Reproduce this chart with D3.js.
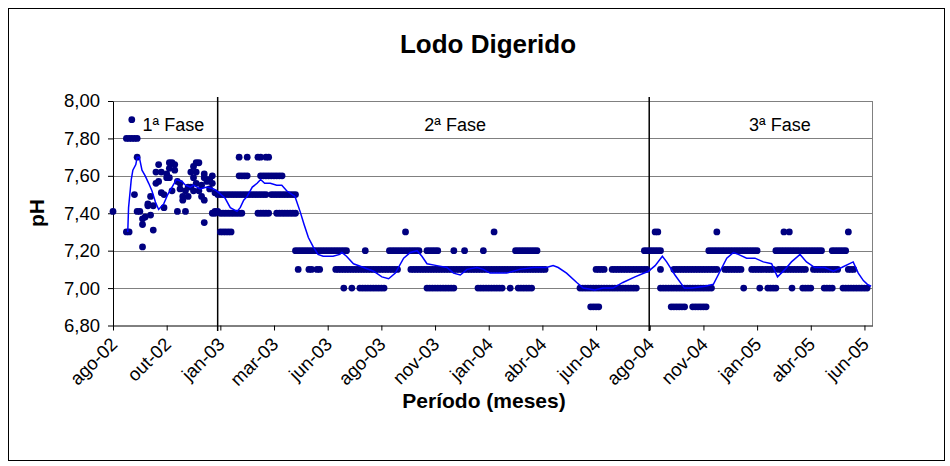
<!DOCTYPE html>
<html>
<head>
<meta charset="utf-8">
<script src="https://cdn.jsdelivr.net/npm/d3@7"></script>
<style>
  html, body { margin: 0; padding: 0; background: #fff; }
  svg { display: block; }
  text { font-family: "Liberation Sans", Arial, sans-serif; fill: #000; }
</style>
</head>
<body>
<svg id="chart" width="950" height="466"></svg>
<script>
// ---------------- DATA ----------------
const chartTitle = "Lodo Digerido";
const yTitle = "pH";
const xTitle = "Período (meses)";

// Y-axis ticks
const yTicks = [6.8, 7.0, 7.2, 7.4, 7.6, 7.8, 8.0];

// X-axis: sample (category) index of each labelled month
const xTickIndex = [0, 20, 40, 60, 80, 100, 120, 140, 160, 180, 200, 220, 240, 260, 280];
const xTickLabels = ["ago-02", "out-02", "jan-03", "mar-03", "jun-03", "ago-03", "nov-03",
  "jan-04", "abr-04", "jun-04", "ago-04", "nov-04", "jan-05", "abr-05", "jun-05"];
const lastSample = 283;

// Phase separators (sample index) and labels
const phaseBreaks = [39, 199.8];
const phaseLabels = ["1ª Fase", "2ª Fase", "3ª Fase"];
const phaseLabelAt = [22.5, 127.5, 248.5];

// Phase 1 readings (sample index, pH)
const phase1Index = [0,5,5,6,6,7,7,8,8,9,9,9,10,11,11,11,12,13,13,14,14,15,15,16,16,17,17,18,18,19,19,20,20,21,21,21,22,22,23,23,24,24,25,25,26,26,27,27,28,28,29,29,30,30,30,31,31,31,32,32,33,33,34,34,34,34,35,35,36,36,37,37,37,38,38,38,39,39];
const phase1Ph = [7.41,7.80,7.30,7.80,7.30,7.80,7.90,7.80,7.50,7.80,7.70,7.41,7.41,7.22,7.37,7.34,7.38,7.44,7.45,7.39,7.49,7.31,7.44,7.56,7.62,7.66,7.57,7.62,7.51,7.50,7.43,7.61,7.59,7.64,7.67,7.59,7.67,7.52,7.66,7.63,7.41,7.57,7.53,7.56,7.49,7.47,7.41,7.52,7.49,7.54,7.62,7.54,7.65,7.59,7.52,7.62,7.56,7.67,7.67,7.52,7.49,7.55,7.47,7.35,7.61,7.59,7.57,7.58,7.58,7.53,7.60,7.56,7.40,7.41,7.51,7.40,7.50,7.41];

// Later readings, grouped by measured pH: sample indices where each value was recorded
const samplesPh770 = [47,50,54,55,57,58];
const samplesPh760 = [47,48,49,50,55,56,57,58,59,60,61,62,63];
const samplesPh750 = [40,41,42,43,44,45,46,47,48,49,50,51,52,53,54,55,56,57,59,60,61,62,63,64,65,66,67,68];
const samplesPh740 = [40,41,42,43,44,45,46,47,48,54,55,56,57,58,61,62,63,64,65,66,67,68];
const samplesPh730 = [40,41,42,43,44,109,142,202,203,225,250,252,274];
const samplesPh720 = [68,69,70,71,72,73,74,75,76,77,78,79,80,81,82,83,84,85,86,87,94,
  103,104,105,106,107,108,109,110,111,112,113,114,117,118,119,120,121,127,131,138,
  150,151,152,153,154,155,156,157,158,198,199,200,201,202,203,204,
  222,223,224,225,226,227,228,229,230,231,232,233,234,235,236,237,238,239,240,
  247,248,249,250,251,252,253,254,255,256,257,258,259,260,261,262,263,264,
  268,269,270,271,272,273];
const samplesPh710 = [69,73,74,76,77,
  83,84,85,86,87,88,89,90,91,92,93,94,95,96,97,98,99,100,101,102,103,104,105,106,
  111,112,113,114,115,116,117,118,119,120,121,122,123,124,125,126,127,128,129,130,
  131,132,133,134,135,136,137,138,139,140,141,142,143,144,145,146,147,148,149,150,
  151,152,153,154,155,156,157,158,159,160,161,
  180,181,182,183,186,187,188,189,190,191,192,193,194,195,196,197,198,199,204,
  209,210,211,212,213,214,215,216,217,218,219,220,221,222,223,224,225,
  228,229,230,231,232,233,234,238,239,240,241,242,243,244,245,246,
  248,249,250,251,252,253,254,255,256,257,258,261,262,263,264,265,266,267,268,269,270,
  274,275,276];
const samplesPh700 = [86,89,92,93,94,95,96,97,98,99,100,101,
  117,118,119,120,121,122,123,124,125,126,127,
  136,137,138,139,140,141,142,143,144,145,148,151,152,153,154,155,156,
  174,175,176,177,178,179,180,181,182,183,184,185,186,187,188,189,190,191,192,193,194,195,
  204,205,206,207,208,209,210,211,212,213,214,215,216,217,218,219,220,221,222,223,
  235,241,244,245,246,247,253,257,258,259,260,265,266,267,268,
  272,273,274,275,276,277,278,279,280,281];
const samplesPh690 = [178,179,180,181,208,209,210,211,212,213,216,217,218,219,220,221];

// Moving-average trend line vertices (sample index, pH)
const trendIndex = [5.5,5.8,6.8,7.4,8.5,9,9.8,10.8,12,13.3,14.5,15.8,17,18.9,20.4,22,23.6,25.7,27,28.8,30,32.5,35,37.5,39.4,41.8,43.7,46.2,47.4,48.7,50,51.9,53.7,55,56.5,58.6,61,62.9,64.7,67.8,69.7,71.2,72.8,74.6,76.4,78.3,82,84.5,85.3,87,89.6,93.4,97.1,100.2,102.7,105.2,108.3,110.8,113.3,115.1,117,120.7,124.4,126.9,129.4,131.9,135.6,138,140.5,143,146.7,151.6,156.6,161.5,164,165.9,169,172.8,175.2,179.5,182.6,186.3,190,194.5,199.5,202,204.7,206.3,209.4,212.9,215.6,220.6,223.7,226.2,228.7,231.2,233,236.1,239.2,242.3,245.4,247.6,250.4,252.8,256,258.4,261.5,265.2,268.4,271.5,275.8,277.7,279.6,281.1,282.5];
const trendPh = [7.30,7.43,7.58,7.63,7.66,7.70,7.70,7.63,7.60,7.56,7.52,7.46,7.42,7.45,7.50,7.54,7.58,7.57,7.55,7.54,7.55,7.53,7.54,7.53,7.51,7.48,7.43,7.41,7.43,7.47,7.49,7.54,7.56,7.58,7.56,7.56,7.55,7.55,7.52,7.49,7.41,7.34,7.27,7.22,7.18,7.17,7.17,7.18,7.19,7.17,7.13,7.11,7.09,7.06,7.05,7.08,7.16,7.19,7.20,7.17,7.13,7.12,7.11,7.08,7.07,7.10,7.11,7.10,7.08,7.08,7.08,7.10,7.11,7.11,7.12,7.11,7.08,7.03,7.00,6.99,7.00,7.00,7.03,7.06,7.09,7.12,7.17,7.14,7.07,7.00,7.00,7.01,7.02,7.09,7.16,7.19,7.18,7.16,7.16,7.14,7.13,7.06,7.10,7.14,7.18,7.14,7.11,7.11,7.09,7.11,7.14,7.08,7.04,7.02,7.01];

// ---------------- BUILD ----------------
const readings = [];
phase1Index.forEach((s, k) => readings.push({ s: s, v: phase1Ph[k] }));
const levelGroups = [
  [7.7, samplesPh770], [7.6, samplesPh760], [7.5, samplesPh750], [7.4, samplesPh740],
  [7.3, samplesPh730], [7.2, samplesPh720], [7.1, samplesPh710], [7.0, samplesPh700],
  [6.9, samplesPh690]
];
levelGroups.forEach(([v, arr]) => arr.forEach(s => readings.push({ s: s, v: v })));
const trend = trendIndex.map((s, k) => ({ s: s, v: trendPh[k] }));

const svg = d3.select("#chart");
const x = d3.scaleLinear().domain([0, lastSample]).range([113, 872.5]);
const y = d3.scaleLinear().domain([6.8, 8.0]).range([325.5, 101]);

// outer frame
svg.append("rect").attr("x", 8.5).attr("y", 8.5).attr("width", 936).attr("height", 452)
  .attr("fill", "#fff").attr("stroke", "#000").attr("stroke-width", 1);

// title
svg.append("text").attr("x", 488).attr("y", 53).attr("text-anchor", "middle")
  .attr("font-size", 26).attr("font-weight", "bold").text(chartTitle);

// gridlines
svg.append("g").selectAll("line").data(yTicks.filter(d => d > 6.8)).join("line")
  .attr("x1", x(0)).attr("x2", x(lastSample))
  .attr("y1", d => Math.round(y(d)) + 0.5).attr("y2", d => Math.round(y(d)) + 0.5)
  .attr("stroke", "#808080").attr("stroke-width", 1);
// plot area right border
svg.append("line").attr("x1", x(lastSample)).attr("x2", x(lastSample))
  .attr("y1", y(8.0)).attr("y2", y(6.8)).attr("stroke", "#808080");

// phase separators
svg.append("g").selectAll("line").data(phaseBreaks).join("line")
  .attr("x1", d => x(d)).attr("x2", d => x(d))
  .attr("y1", 97).attr("y2", 331)
  .attr("stroke", "#000").attr("stroke-width", 1.5);

// phase labels
svg.append("g").selectAll("text").data(phaseLabels).join("text")
  .attr("x", (d, i) => x(phaseLabelAt[i])).attr("y", 131)
  .attr("text-anchor", "middle").attr("font-size", 18).text(d => d);

// axes
const fmt = d => d3.format(".2f")(d).replace(".", ",");
const yAxis = svg.append("g").attr("transform", `translate(${x(0)},0)`)
  .call(d3.axisLeft(y).tickValues(yTicks).tickSize(5).tickSizeOuter(0).tickFormat(fmt));
yAxis.selectAll("text").attr("font-size", 18.5).attr("x", -13)
  .style("font-family", '"Liberation Sans", Arial, sans-serif').attr("fill", "#000");
yAxis.selectAll("line, path").attr("stroke", "#000");

const xAxis = svg.append("g").attr("transform", `translate(0,${y(6.8)})`)
  .call(d3.axisBottom(x).tickValues(xTickIndex).tickSize(5).tickSizeOuter(0)
    .tickFormat((d, i) => xTickLabels[i]));
xAxis.selectAll("line, path").attr("stroke", "#000");
xAxis.selectAll("text")
  .attr("font-size", 18.5).attr("fill", "#000")
  .style("font-family", '"Liberation Sans", Arial, sans-serif')
  .attr("text-anchor", "end").attr("dy", null).attr("y", null)
  .attr("transform", "translate(5,20) rotate(-45)");

// axis titles
svg.append("text").attr("transform", "translate(44,213) rotate(-90)")
  .attr("text-anchor", "middle").attr("font-size", 21).attr("font-weight", "bold").text(yTitle);
svg.append("text").attr("x", 484).attr("y", 408).attr("text-anchor", "middle")
  .attr("font-size", 21).attr("font-weight", "bold").text(xTitle);

// points
svg.append("g").selectAll("circle").data(readings).join("circle")
  .attr("cx", d => x(d.s)).attr("cy", d => y(d.v)).attr("r", 3.4)
  .attr("fill", "#000080");

// trend line
svg.append("path").datum(trend)
  .attr("d", d3.line().x(d => x(d.s)).y(d => y(d.v)))
  .attr("fill", "none").attr("stroke", "#0000FF").attr("stroke-width", 1.5);
</script>
</body>
</html>
